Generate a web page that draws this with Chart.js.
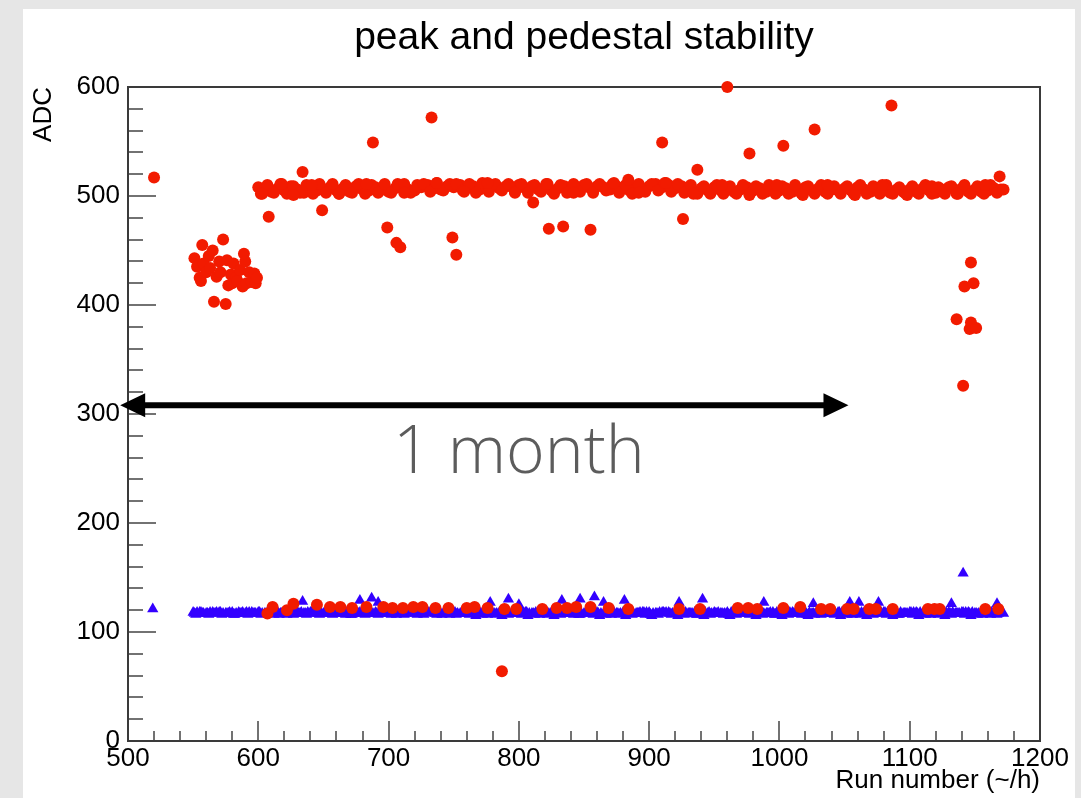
<!DOCTYPE html>
<html>
<head>
<meta charset="utf-8">
<title>peak and pedestal stability</title>
<script src="https://cdn.jsdelivr.net/npm/chart.js@4.4.1/dist/chart.umd.min.js"></script>
<style>
  html, body { margin: 0; padding: 0; }
  body { width: 1081px; height: 798px; background: #e6e6e6; position: relative; overflow: hidden; }
  #panel { position: absolute; left: 23px; top: 9px; width: 1052px; height: 789px; background: #fff; }
  #chart { position: absolute; left: 0; top: 0; }
</style>
</head>
<body>
<div id="panel"></div>
<canvas id="chart" width="1081" height="798"></canvas>
<script>
"use strict";

// run numbers of the dense bands (~1 run per hour)
const bandRuns = [
  550, 555, 560, 565, 570, 575, 580, 585, 590, 595,
  600, 605, 610, 615, 620, 625, 630, 635, 640, 645,
  650, 655, 660, 665, 670, 675, 680, 685, 690, 695,
  700, 705, 710, 715, 720, 725, 730, 735, 740, 745,
  750, 755, 760, 765, 770, 775, 780, 785, 790, 795,
  800, 805, 810, 815, 820, 825, 830, 835, 840, 845,
  850, 855, 860, 865, 870, 875, 880, 885, 890, 895,
  900, 905, 910, 915, 920, 925, 930, 935, 940, 945,
  950, 955, 960, 965, 970, 975, 980, 985, 990, 995,
  1000, 1005, 1010, 1015, 1020, 1025, 1030, 1035, 1040, 1045,
  1050, 1055, 1060, 1065, 1070, 1075, 1080, 1085, 1090, 1095,
  1100, 1105, 1110, 1115, 1120, 1125, 1130, 1135, 1140, 1145,
  1150, 1155, 1160, 1165, 1170
];
const bandRuns2 = [
  552, 557, 562, 567, 572, 577, 582, 587, 592, 597,
  602, 607, 612, 617, 622, 627, 632, 637, 642, 647,
  652, 657, 662, 667, 672, 677, 682, 687, 692, 697,
  702, 707, 712, 717, 722, 727, 732, 737, 742, 747,
  752, 757, 762, 767, 772, 777, 782, 787, 792, 797,
  802, 807, 812, 817, 822, 827, 832, 837, 842, 847,
  852, 857, 862, 867, 872, 877, 882, 887, 892, 897,
  902, 907, 912, 917, 922, 927, 932, 937, 942, 947,
  952, 957, 962, 967, 972, 977, 982, 987, 992, 997,
  1002, 1007, 1012, 1017, 1022, 1027, 1032, 1037, 1042, 1047,
  1052, 1057, 1062, 1067, 1072, 1077, 1082, 1087, 1092, 1097,
  1102, 1107, 1112, 1117, 1122, 1127, 1132, 1137, 1142, 1147,
  1152, 1157, 1162, 1167
];
const bandRuns3 = [
  551, 556, 561, 566, 571, 576, 581, 586, 591, 596,
  601, 606, 611, 616, 621, 626, 631, 636, 641, 646,
  651, 656, 661, 666, 671, 676, 681, 686, 691, 696,
  701, 706, 711, 716, 721, 726, 731, 736, 741, 746,
  751, 756, 761, 766, 771, 776, 781, 786, 791, 796,
  801, 806, 811, 816, 821, 826, 831, 836, 841, 846,
  851, 856, 861, 866, 871, 876, 881, 886, 891, 896,
  901, 906, 911, 916, 921, 926, 931, 936, 941, 946,
  951, 956, 961, 966, 971, 976, 981, 986, 991, 996,
  1001, 1006, 1011, 1016, 1021, 1026, 1031, 1036, 1041, 1046,
  1051, 1056, 1061, 1066, 1071, 1076, 1081, 1086, 1091, 1096,
  1101, 1106, 1111, 1116, 1121, 1126, 1131, 1136, 1141, 1146,
  1151, 1156, 1161, 1166
];
const bandRuns4 = [
  553, 558, 563, 568, 573, 578, 583, 588, 593, 598,
  603, 608, 613, 618, 623, 628, 633, 638, 643, 648,
  653, 658, 663, 668, 673, 678, 683, 688, 693, 698,
  703, 708, 713, 718, 723, 728, 733, 738, 743, 748,
  753, 758, 763, 768, 773, 778, 783, 788, 793, 798,
  803, 808, 813, 818, 823, 828, 833, 838, 843, 848,
  853, 858, 863, 868, 873, 878, 883, 888, 893, 898,
  903, 908, 913, 918, 923, 928, 933, 938, 943, 948,
  953, 958, 963, 968, 973, 978, 983, 988, 993, 998,
  1003, 1008, 1013, 1018, 1023, 1028, 1033, 1038, 1043, 1048,
  1053, 1058, 1063, 1068, 1073, 1078, 1083, 1088, 1093, 1098,
  1103, 1108, 1113, 1118, 1123, 1128, 1133, 1138, 1143, 1148,
  1153, 1158, 1163, 1168
];

// pedestal (blue triangles), one array per run list above
const pedestalBand = [
  118, 118, 117, 118, 118, 117, 118, 118, 117, 118,
  118, 117, 118, 118, 117, 118, 118, 117, 118, 118,
  117, 118, 118, 117, 118, 118, 117, 118, 118, 117,
  118, 118, 117, 118, 118, 117, 118, 118, 117, 118,
  118, 117, 118, 117, 118, 118, 117, 118, 118, 117,
  118, 118, 117, 118, 117, 118, 118, 117, 118, 118,
  117, 118, 118, 117, 118, 117, 118, 118, 117, 118,
  118, 117, 118, 118, 117, 118, 117, 118, 118, 117,
  118, 117, 118, 117, 118, 118, 117, 118, 117, 118,
  117, 118, 118, 117, 118, 117, 118, 118, 117, 118,
  118, 117, 118, 118, 117, 118, 118, 117, 118, 117,
  118, 118, 117, 118, 118, 117, 118, 117, 118, 118,
  117, 118, 118, 117, 118
];
const pedestalBand2 = [
  116, 117, 116, 117, 116, 117, 116, 117, 116, 117,
  116, 117, 116, 117, 116, 116, 117, 116, 117, 116,
  117, 116, 117, 116, 116, 117, 116, 117, 116, 117,
  116, 117, 116, 117, 116, 116, 117, 116, 117, 116,
  116, 117, 116, 115, 116, 117, 116, 115, 116, 117,
  116, 115, 116, 117, 116, 115, 116, 117, 116, 116,
  117, 116, 115, 116, 117, 116, 115, 116, 117, 116,
  115, 116, 117, 116, 115, 116, 117, 116, 115, 116,
  117, 116, 115, 116, 117, 116, 115, 116, 117, 116,
  115, 116, 117, 116, 115, 116, 116, 117, 116, 115,
  116, 117, 116, 115, 116, 117, 116, 115, 116, 117,
  116, 115, 116, 117, 116, 115, 116, 117, 116, 115,
  116, 117, 116, 116
];
const pedestalBand3 = [
  117, 118, 117, 117, 118, 117, 116, 117, 118, 117,
  118, 117, 117, 116, 117, 118, 117, 117, 118, 117,
  117, 117, 118, 117, 116, 117, 118, 117, 117, 118,
  117, 116, 117, 118, 117, 117, 118, 117, 116, 117,
  118, 117, 117, 118, 117, 116, 117, 118, 117, 117,
  117, 118, 117, 116, 117, 117, 118, 117, 117, 116,
  117, 118, 117, 117, 116, 117, 118, 117, 117, 118,
  116, 117, 118, 117, 117, 118, 117, 116, 117, 118,
  117, 117, 116, 117, 118, 117, 117, 118, 117, 116,
  117, 118, 117, 117, 116, 117, 118, 117, 117, 118,
  117, 116, 117, 118, 117, 117, 118, 117, 116, 117,
  118, 117, 117, 116, 117, 118, 117, 117, 118, 117,
  117, 116, 117, 118
];
const pedestalBand4 = [
  118, 117, 118, 118, 117, 118, 117, 118, 118, 117,
  117, 118, 118, 117, 118, 117, 118, 118, 117, 118,
  118, 117, 118, 118, 117, 118, 118, 117, 118, 117,
  118, 118, 117, 118, 117, 118, 118, 117, 118, 118,
  117, 118, 118, 117, 118, 118, 117, 118, 117, 118,
  118, 117, 118, 118, 117, 118, 117, 118, 118, 117,
  118, 118, 117, 118, 118, 117, 118, 117, 118, 118,
  117, 118, 118, 117, 118, 118, 117, 118, 118, 117,
  118, 117, 118, 118, 117, 118, 118, 117, 118, 118,
  117, 118, 118, 117, 118, 117, 118, 118, 117, 118,
  118, 117, 118, 118, 117, 118, 118, 117, 118, 117,
  118, 118, 117, 118, 117, 118, 118, 117, 118, 118,
  117, 118, 118, 117
];

// peak (red circles), nothing in the band before run 600
const peakBand = [
  null, null, null, null, null, null, null, null, null, null,
  508, 506, 504, 507, 505, 509, 506, 503, 507, 505,
  506, 508, 505, 507, 504, 509, 506, 505, 508, 506,
  504, 507, 509, 506, 505, 508, 510, 507, 506, 509,
  508, 510, 507, 509, 506, 508, 510, 507, 509, 508,
  510, 507, 509, 506, 508, 505, 507, 509, 506, 508,
  510, 507, 509, 508, 506, 509, 507, 505, 508, 506,
  509, 511, 508, 510, 507, 509, 506, 504, 507, 505,
  508, 505, 507, 504, 506, 508, 505, 507, 504, 506,
  505, 507, 504, 506, 508, 505, 507, 504, 506, 505,
  507, 505, 508, 506, 504, 507, 505, 503, 506, 504,
  506, 504, 507, 505, 503, 506, 508, 505, 507, 504,
  506, 504, 505, 507, 506
];
const peakBand2 = [
  null, null, null, null, null, null, null, null, null, null,
  502, 510, 503, 511, 502, 509, 503, 510, 502, 511,
  503, 511, 502, 510, 503, 511, 502, 510, 503, 511,
  503, 511, 511, 503, 510, 511, 504, 512, 505, 511,
  511, 505, 511, 503, 512, 504, 511, 505, 511, 504,
  511, 503, 510, 504, 511, 502, 510, 503, 511, 504,
  511, 503, 511, 505, 511, 503, 510, 502, 511, 504,
  511, 505, 512, 504, 511, 503, 510, 502, 509, 502,
  510, 502, 509, 502, 510, 502, 509, 502, 510, 502,
  509, 502, 510, 502, 509, 502, 510, 502, 509, 502,
  509, 502, 510, 502, 509, 502, 510, 502, 508, 502,
  509, 502, 510, 502, 508, 502, 509, 502, 510, 502,
  509, 502, 510, 503
];

// extra pedestal points (spikes, isolated runs)
const pedestalExtraRuns = [519, 634, 678, 687, 692, 778, 792, 800, 833, 847, 858, 865, 881, 923, 941, 988, 1026, 1054, 1061, 1076, 1132, 1141, 1167, 1172];
const pedestalExtraAdc  = [121, 128, 129, 131, 127, 127, 130, 125, 129, 130, 132, 127, 129, 127, 130, 127, 126, 127, 127, 127, 126, 154, 126, 117];

// extra peak points in the 505 band
const peakFillRuns = [603, 618, 627, 641, 662, 683, 712, 737, 758, 776, 797, 821, 842, 873, 892, 913, 934, 956, 977, 998, 1018, 1037, 1058, 1079, 1098, 1117, 1136, 1158, 1172];
const peakFillAdc  = [502, 511, 501, 510, 502, 511, 503, 512, 504, 512, 503, 511, 503, 512, 503, 512, 502, 510, 501, 510, 501, 510, 501, 510, 501, 509, 502, 510, 506];

// early cluster (runs 550-600)
const clusterRuns = [551, 553, 555, 556, 557, 558, 560, 562, 563, 565, 566, 568, 570, 571, 573, 575, 576, 577, 579, 580, 581, 583, 584, 586, 588, 589, 590, 591, 593, 595, 597, 598, 599];
const clusterAdc  = [443, 435, 425, 422, 455, 438, 430, 445, 434, 450, 403, 426, 440, 430, 460, 401, 441, 418, 428, 420, 438, 425, 422, 432, 417, 447, 440, 420, 430, 421, 429, 420, 425];

// isolated peak outliers
const outlierRuns = [520, 608, 634, 649, 688, 699, 706, 709, 733, 749, 752, 811, 823, 834, 855, 884, 910, 926, 937, 960, 977, 1003, 1027, 1086, 1136, 1141, 1142, 1146, 1147, 1147, 1149, 1151, 1169];
const outlierAdc  = [517, 481, 522, 487, 549, 471, 457, 453, 572, 462, 446, 494, 470, 472, 469, 515, 549, 479, 524, 600, 539, 546, 561, 583, 387, 326, 417, 378, 384, 439, 420, 379, 518];

// peak values that fell to pedestal level
const lowRuns = [607, 611, 622, 627, 645, 655, 663, 672, 683, 696, 703, 711, 719, 726, 736, 746, 760, 766, 776, 787, 789, 798, 818, 829, 837, 844, 855, 869, 884, 923, 939, 968, 976, 983, 1003, 1016, 1032, 1039, 1052, 1057, 1069, 1074, 1087, 1114, 1119, 1123, 1158, 1168];
const lowAdc  = [117, 123, 120, 126, 125, 123, 123, 122, 123, 123, 122, 122, 123, 123, 122, 122, 122, 123, 122, 64, 121, 121, 121, 122, 122, 123, 123, 122, 121, 121, 121, 122, 122, 121, 122, 123, 121, 121, 121, 121, 121, 121, 121, 121, 121, 121, 121, 121];

// "1 month" annotation, in data units
const arrowRuns = [494, 1053];
const arrowAdc = 308;
const arrowLabel = "1 month";
const arrowLabelAt = [800, 246];

function points(xs, ys) {
  const out = [];
  xs.forEach((x, i) => { if (ys[i] !== null) out.push({ x: x, y: ys[i] }); });
  return out;
}

const peakData = [].concat(
  points(bandRuns, peakBand),
  points(bandRuns2, peakBand2),
  points(peakFillRuns, peakFillAdc),
  points(clusterRuns, clusterAdc),
  points(outlierRuns, outlierAdc),
  points(lowRuns, lowAdc)
);
const pedestalData = [].concat(
  points(bandRuns, pedestalBand),
  points(bandRuns2, pedestalBand2),
  points(bandRuns3, pedestalBand3),
  points(bandRuns4, pedestalBand4),
  points(pedestalExtraRuns, pedestalExtraAdc)
);

const FONT = "'Liberation Sans', Arial, Helvetica, sans-serif";

// ROOT style frame with inside ticks
const frameTicks = {
  id: "frameTicks",
  beforeDatasetsDraw(chart) {
    const { ctx, chartArea: a, scales: { x, y } } = chart;
    ctx.save();
    ctx.strokeStyle = "#444";
    ctx.lineWidth = 1.5;
    ctx.beginPath();
    for (let v = x.min; v <= x.max; v += 20) {
      const px = Math.round(x.getPixelForValue(v));
      const len = v % 100 === 0 ? 20 : 10;
      ctx.moveTo(px, a.bottom);
      ctx.lineTo(px, a.bottom - len);
    }
    for (let v = y.min; v <= y.max; v += 20) {
      const py = Math.round(y.getPixelForValue(v));
      const len = v % 100 === 0 ? 28 : 15;
      ctx.moveTo(a.left, py);
      ctx.lineTo(a.left + len, py);
    }
    ctx.stroke();
    ctx.lineWidth = 2;
    ctx.strokeStyle = "#3a3a3a";
    ctx.strokeRect(a.left, a.top, a.right - a.left, a.bottom - a.top);
    ctx.restore();
  }
};

// double arrow with label
const monthArrow = {
  id: "monthArrow",
  afterDatasetsDraw(chart) {
    const { ctx, scales: { x, y } } = chart;
    const x1 = x.getPixelForValue(arrowRuns[0]);
    const x2 = x.getPixelForValue(arrowRuns[1]);
    const yy = y.getPixelForValue(arrowAdc);
    const head = 25, half = 12;
    ctx.save();
    ctx.fillStyle = "#000";
    ctx.strokeStyle = "#000";
    ctx.lineWidth = 6;
    ctx.beginPath();
    ctx.moveTo(x1 + head - 2, yy);
    ctx.lineTo(x2 - head + 2, yy);
    ctx.stroke();
    ctx.beginPath();
    ctx.moveTo(x1, yy);
    ctx.lineTo(x1 + head, yy - half);
    ctx.lineTo(x1 + head, yy + half);
    ctx.closePath();
    ctx.moveTo(x2, yy);
    ctx.lineTo(x2 - head, yy - half);
    ctx.lineTo(x2 - head, yy + half);
    ctx.closePath();
    ctx.fill();
    ctx.fillStyle = "#5c5c5c";
    ctx.font = "300 66px 'Open Sans', Lato, 'Noto Sans', sans-serif";
    ctx.textAlign = "center";
    ctx.textBaseline = "alphabetic";
    ctx.fillText(arrowLabel, x.getPixelForValue(arrowLabelAt[0]), y.getPixelForValue(arrowLabelAt[1]));
    ctx.restore();
  }
};

const ctx = document.getElementById("chart").getContext("2d");
new Chart(ctx, {
  type: "scatter",
  data: {
    datasets: [
      {
        label: "peak",
        data: peakData,
        pointStyle: "circle",
        pointRadius: 6,
        pointBorderWidth: 0,
        backgroundColor: "#f21b00",
        borderColor: "#f21b00",
        clip: false
      },
      {
        label: "pedestal",
        data: pedestalData,
        pointStyle: "triangle",
        pointRadius: 6.5,
        pointBorderWidth: 0,
        backgroundColor: "#3300ff",
        borderColor: "#3300ff",
        clip: false
      }
    ]
  },
  options: {
    responsive: false,
    animation: false,
    events: [],
    layout: { padding: { top: 0, right: 41, bottom: 0, left: 0 } },
    plugins: {
      legend: { display: false },
      tooltip: { enabled: false },
      title: {
        display: true,
        text: "peak and pedestal stability",
        color: "#000",
        fullSize: false,
        font: { family: FONT, size: 39, weight: "normal", lineHeight: 1.2 },
        padding: { top: 15, bottom: 25.2 }
      }
    },
    scales: {
      x: {
        type: "linear",
        min: 500,
        max: 1200,
        afterFit(scale) { scale.height = 57; },
        grid: { display: false, drawTicks: false },
        border: { display: false },
        ticks: {
          stepSize: 100,
          padding: 2,
          color: "#000",
          font: { family: FONT, size: 26 },
          callback: (v) => String(v)
        },
        title: {
          display: true,
          text: "Run number (~/h)",
          align: "end",
          color: "#000",
          font: { family: FONT, size: 26 },
          padding: { top: 0, bottom: 2 }
        }
      },
      y: {
        type: "linear",
        min: 0,
        max: 600,
        afterFit(scale) { scale.width = 128; },
        grid: { display: false, drawTicks: false },
        border: { display: false },
        ticks: {
          stepSize: 100,
          padding: 8,
          color: "#000",
          font: { family: FONT, size: 26 },
          callback: (v) => String(v)
        },
        title: {
          display: true,
          text: "ADC",
          align: "end",
          color: "#000",
          font: { family: FONT, size: 26 },
          padding: { top: 28, bottom: 0 }
        }
      }
    }
  },
  plugins: [frameTicks, monthArrow]
});
</script>
</body>
</html>
